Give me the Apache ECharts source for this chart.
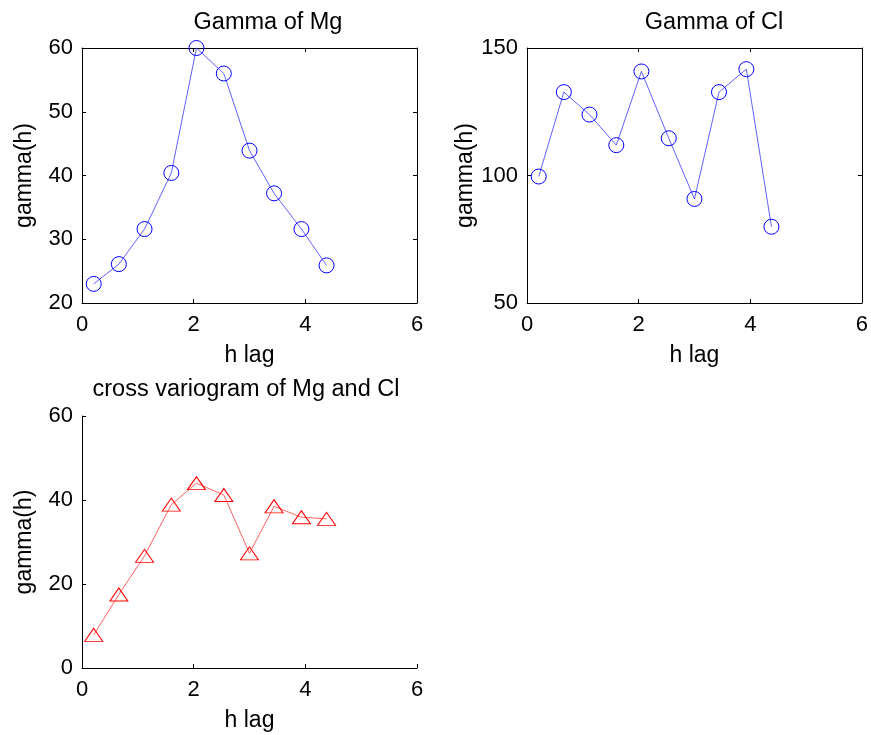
<!DOCTYPE html>
<html>
<head>
<meta charset="utf-8">
<script src="https://cdn.jsdelivr.net/npm/echarts@6/dist/echarts.min.js"></script>
<style>
	html, body { margin: 0; padding: 0; background: #fff; }
	#main { width: 871px; height: 735px; }
</style>
</head>
<body>
<div id="main"></div>
<script>
// lag distances (h)
var hLag = [0.21, 0.66, 1.12, 1.60, 2.05, 2.54, 3.00, 3.44, 3.93, 4.38];
// semivariogram values
var gammaMg = [23.0, 26.1, 31.6, 40.4, 60.0, 56.0, 43.9, 37.2, 31.6, 25.9];
var gammaCl = [99.6, 132.7, 123.9, 111.9, 140.8, 114.6, 90.8, 132.7, 141.7, 79.9];
var crossMgCl = [7.9, 17.5, 26.7, 38.9, 44.0, 41.2, 27.3, 38.5, 35.9, 35.5];
// axis ticks
var xTicks = [0, 2, 4, 6];
var mgTicks = [20, 30, 40, 50, 60];
var clTicks = [50, 100, 150];
var crossTicks = [0, 20, 40, 60];

var FONT = '"Liberation Sans", Arial, Helvetica, sans-serif';

var chart = echarts.init(document.getElementById('main'));

function pairs(xs, ys) {
	var out = [];
	for (var i = 0; i < xs.length; i++) {
		out.push([xs[i], ys[i]]);
	}
	return out;
}

function rangeOf(ticks) {
	return {
		min: ticks[0],
		max: ticks[ticks.length - 1],
		interval: ticks[1] - ticks[0]
	};
}

//主坐标轴
function mainX(grid) {
	var r = rangeOf(xTicks);
	return {
		type: 'value', gridIndex: grid, position: 'bottom',
		min: r.min, max: r.max, interval: r.interval,
		name: 'h lag', nameLocation: 'middle', nameGap: 41,
		nameTextStyle: { fontFamily: FONT, fontSize: 23, color: '#000' },
		axisLine: { onZero: false, lineStyle: { color: '#000', width: 1 } },
		axisTick: { inside: true, length: 4, lineStyle: { color: '#000' } },
		axisLabel: { fontFamily: FONT, fontSize: 22, color: '#000', margin: 11 },
		splitLine: { show: false }
	};
}

function mainY(grid, ticks) {
	var r = rangeOf(ticks);
	return {
		type: 'value', gridIndex: grid, position: 'left',
		min: r.min, max: r.max, interval: r.interval,
		name: 'gamma(h)', nameLocation: 'middle', nameGap: 46,
		nameTextStyle: { fontFamily: FONT, fontSize: 23, color: '#000' },
		axisLine: { onZero: false, lineStyle: { color: '#000', width: 1 } },
		axisTick: { inside: true, length: 4, lineStyle: { color: '#000' } },
		axisLabel: { fontFamily: FONT, fontSize: 22, color: '#000', margin: 9 },
		splitLine: { show: false }
	};
}

//盒子边框（上、右）
function boxX(grid) {
	var a = mainX(grid);
	a.position = 'top';
	a.name = '';
	a.axisLabel = { show: false };
	return a;
}

function boxY(grid, ticks) {
	var a = mainY(grid, ticks);
	a.position = 'right';
	a.name = '';
	a.axisLabel = { show: false };
	return a;
}

function circleSeries(xi, yi, ys) {
	return {
		type: 'line', xAxisIndex: xi, yAxisIndex: yi,
		data: pairs(hLag, ys),
		symbol: 'circle', symbolSize: 15,
		lineStyle: { color: '#3a3aff', width: 0.8 },
		itemStyle: { color: 'rgba(0,0,0,0)', borderColor: '#0000ff', borderWidth: 1 }
	};
}

var option = {
	animation: false,
	backgroundColor: '#fff',
	grid: [
		{ left: 82, top: 48, width: 335, height: 255 },
		{ left: 527, top: 48, width: 336, height: 255 },
		{ left: 82, top: 416, width: 335, height: 252 }
	],
	xAxis: [mainX(0), mainX(1), mainX(2), boxX(0), boxX(1)],
	yAxis: [mainY(0, mgTicks), mainY(1, clTicks), mainY(2, crossTicks), boxY(0, mgTicks), boxY(1, clTicks)],
	graphic: [
		{ type: 'text', x: 268, y: 23, style: { text: 'Gamma of Mg', font: '23.5px ' + FONT, fill: '#000', align: 'center', verticalAlign: 'middle' } },
		{ type: 'text', x: 714, y: 23, style: { text: 'Gamma of Cl', font: '23.5px ' + FONT, fill: '#000', align: 'center', verticalAlign: 'middle' } },
		{ type: 'text', x: 246, y: 390, style: { text: 'cross variogram of Mg and Cl', font: '23.5px ' + FONT, fill: '#000', align: 'center', verticalAlign: 'middle' } }
	],
	series: [
		circleSeries(0, 0, gammaMg),
		circleSeries(1, 1, gammaCl),
		{
			type: 'line', xAxisIndex: 2, yAxisIndex: 2,
			data: pairs(hLag, crossMgCl),
			symbol: 'triangle', symbolSize: [18, 13],
			lineStyle: { color: '#ff3a3a', width: 0.8 },
			itemStyle: { color: 'rgba(0,0,0,0)', borderColor: '#ff0000', borderWidth: 1 }
		}
	]
};

chart.setOption(option);
</script>
</body>
</html>
